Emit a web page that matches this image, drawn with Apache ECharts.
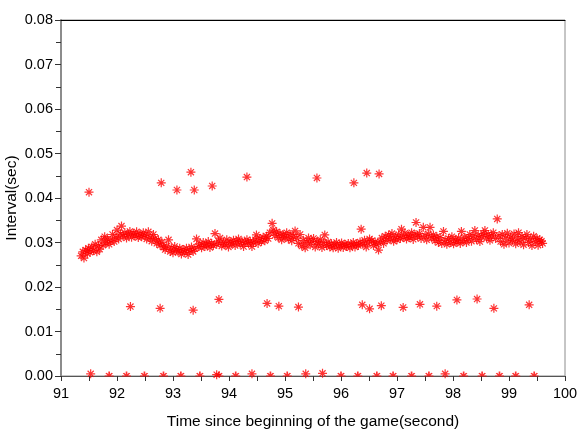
<!DOCTYPE html>
<html><head><meta charset="utf-8">
<script src="https://cdn.jsdelivr.net/npm/echarts@6/dist/echarts.min.js"></script>
<style>html,body{margin:0;padding:0;background:#fff}#c{width:578px;height:432px}</style>
</head><body><div id="c"></div>
<script>
var xTicks = [91,92,93,94,95,96,97,98,99,100];
var yTicks = [0,0.01,0.02,0.03,0.04,0.05,0.06,0.07,0.08];
var xName = 'Time since beginning of the game(second)';
var yName = 'Interval(sec)';

var bandPoints = [
[91.36,0.0270],[91.39,0.0279],[91.41,0.0265],[91.44,0.0283],[91.47,0.0275],[91.49,0.0287],
[91.52,0.0278],[91.55,0.0290],[91.58,0.0282],[91.61,0.0296],[91.64,0.0279],[91.67,0.0293],[91.69,0.0285],
[91.72,0.0306],[91.75,0.0294],[91.78,0.0313],[91.80,0.0299],[91.83,0.0308],[91.86,0.0296],[91.89,0.0304],
[91.92,0.0318],[91.95,0.0302],[91.98,0.0312],[92.00,0.0328],[92.03,0.0308],[92.06,0.0319],[92.08,0.0337],
[92.11,0.0314],[92.14,0.0322],[92.17,0.0310],[92.20,0.0318],[92.23,0.0325],[92.26,0.0312],[92.29,0.0320],[92.32,0.0315],[92.35,0.0324],[92.38,0.0311],[92.41,0.0319],[92.44,0.0313],[92.47,0.0322],
[92.50,0.0316],[92.53,0.0308],[92.56,0.0324],[92.59,0.0312],[92.62,0.0303],[92.65,0.0318],[92.68,0.0309],
[92.71,0.0298],[92.74,0.0306],[92.77,0.0294],[92.80,0.0301],[92.83,0.0290],
[92.86,0.0284],[92.89,0.0292],[92.92,0.0306],[92.95,0.0280],[92.97,0.0288],[93.00,0.0277],[93.03,0.0291],[93.06,0.0283],
[93.09,0.0279],[93.12,0.0287],[93.15,0.0274],[93.18,0.0284],[93.21,0.0278],[93.24,0.0287],[93.27,0.0273],[93.30,0.0282],[93.33,0.0290],[93.36,0.0280],
[93.39,0.0286],[93.42,0.0308],[93.45,0.0291],[93.48,0.0297],[93.51,0.0288],[93.54,0.0300],[93.57,0.0291],[93.60,0.0295],[93.63,0.0302],[93.66,0.0289],[93.69,0.0298],[93.72,0.0293],[93.75,0.0320],[93.78,0.0296],
[93.81,0.0303],[93.84,0.0310],[93.87,0.0292],[93.90,0.0300],[93.93,0.0295],[93.96,0.0306],[93.99,0.0290],[94.02,0.0301],[94.05,0.0297],[94.08,0.0305],[94.11,0.0293],[94.14,0.0302],[94.17,0.0308],[94.20,0.0296],[94.23,0.0303],[94.26,0.0291],[94.29,0.0300],[94.32,0.0306],[94.35,0.0297],[94.38,0.0303],
[94.41,0.0291],[94.44,0.0300],[94.47,0.0306],[94.49,0.0317],[94.52,0.0298],[94.55,0.0309],[94.58,0.0302],[94.61,0.0312],[94.64,0.0304],[94.67,0.0314],[94.70,0.0309],
[94.73,0.0322],[94.77,0.0343],[94.79,0.0328],[94.82,0.0316],[94.85,0.0324],[94.88,0.0311],[94.91,0.0320],[94.94,0.0306],[94.97,0.0317],[95.00,0.0312],[95.03,0.0322],[95.06,0.0308],[95.09,0.0318],[95.12,0.0304],[95.15,0.0314],[95.18,0.0326],
[95.21,0.0310],[95.24,0.0298],[95.27,0.0318],[95.30,0.0292],[95.33,0.0305],[95.36,0.0288],[95.39,0.0300],[95.42,0.0310],[95.45,0.0295],[95.48,0.0303],[95.51,0.0309],[95.54,0.0290],
[95.57,0.0302],[95.60,0.0296],[95.63,0.0306],[95.66,0.0289],[95.69,0.0300],[95.71,0.0317],[95.74,0.0293],[95.77,0.0301],
[95.80,0.0290],[95.83,0.0297],[95.86,0.0288],[95.89,0.0295],[95.92,0.0300],[95.95,0.0287],[95.98,0.0294],[96.01,0.0299],[96.04,0.0289],[96.07,0.0296],[96.10,0.0291],[96.13,0.0298],[96.16,0.0288],[96.19,0.0295],[96.22,0.0300],[96.25,0.0290],[96.28,0.0297],[96.31,0.0293],
[96.34,0.0301],[96.36,0.0330],[96.39,0.0296],[96.42,0.0305],[96.45,0.0290],[96.48,0.0299],[96.51,0.0308],[96.55,0.0304],[96.58,0.0293],[96.61,0.0301],[96.64,0.0296],[96.67,0.0283],
[96.70,0.0302],[96.73,0.0310],[96.76,0.0298],[96.79,0.0314],[96.82,0.0305],[96.85,0.0317],[96.88,0.0308],[96.91,0.0320],[96.94,0.0303],[96.97,0.0313],[97.00,0.0306],[97.03,0.0318],[97.06,0.0309],
[97.08,0.0330],[97.11,0.0312],[97.14,0.0321],[97.17,0.0308],[97.20,0.0316],[97.23,0.0311],[97.26,0.0322],[97.29,0.0307],[97.32,0.0318],[97.34,0.0345],[97.37,0.0313],[97.40,0.0320],[97.43,0.0309],[97.47,0.0334],[97.50,0.0315],[97.53,0.0306],[97.56,0.0319],[97.59,0.0334],[97.62,0.0310],[97.65,0.0317],[97.68,0.0304],[97.71,0.0313],[97.74,0.0300],
[97.77,0.0311],[97.80,0.0298],[97.83,0.0325],[97.86,0.0305],[97.89,0.0296],[97.92,0.0309],[97.95,0.0300],[97.98,0.0313],[98.01,0.0297],[98.04,0.0306],[98.07,0.0301],[98.10,0.0310],[98.13,0.0298],[98.15,0.0325],[98.18,0.0304],[98.21,0.0312],[98.24,0.0300],
[98.27,0.0309],[98.30,0.0318],[98.33,0.0303],[98.36,0.0314],[98.39,0.0327],[98.42,0.0307],[98.45,0.0316],[98.48,0.0302],[98.51,0.0313],[98.54,0.0320],[98.57,0.0327],[98.60,0.0310],[98.63,0.0318],[98.66,0.0305],[98.69,0.0315],[98.72,0.0322],
[98.76,0.0309],[98.79,0.0353],[98.82,0.0315],[98.85,0.0302],[98.88,0.0318],[98.91,0.0296],[98.94,0.0310],[98.97,0.0321],[99.00,0.0299],[99.03,0.0312],[99.06,0.0305],[99.09,0.0319],[99.12,0.0297],[99.15,0.0308],[99.17,0.0322],[99.20,0.0301],[99.23,0.0313],[99.26,0.0295],[99.29,0.0310],[99.32,0.0318],[99.35,0.0300],[99.38,0.0308],[99.41,0.0293],[99.44,0.0314],[99.47,0.0302],[99.50,0.0309],[99.52,0.0294],[99.55,0.0306],[99.58,0.0303],[99.60,0.0298]
];

var highPoints = [
[91.50,0.0413],[92.79,0.0434],[93.07,0.0418],[93.32,0.0458],[93.38,0.0418],[93.70,0.0427],
[94.32,0.0447],[95.57,0.0445],[96.23,0.0434],[96.46,0.0456],[96.68,0.0454]
];

var midPoints = [
[92.24,0.0156],[92.77,0.0152],[93.36,0.0148],[93.82,0.0172],[94.68,0.0163],[94.89,0.0157],[95.24,0.0155],
[96.38,0.0160],[96.51,0.0151],[96.72,0.0158],[97.11,0.0154],[97.41,0.0161],[97.71,0.0157],[98.07,0.0171],
[98.43,0.0173],[98.73,0.0152],[99.36,0.0160]
];

var nearZeroPoints = [
[91.53,0.0005],[93.78,0.0003],[94.41,0.0005],[95.37,0.0005],[95.67,0.0006],[97.86,0.0005]
];

var zeroPoints = [
[91.86,0],[92.17,0],[92.49,0],[92.83,0],[93.14,0],[93.48,0],[93.82,0],[94.12,0],[94.74,0],[95.04,0],
[96.00,0],[96.30,0],[96.64,0],[96.93,0],[97.26,0],[97.57,0],[98.19,0],[98.52,0],[98.83,0],[99.12,0],[99.45,0]
];

var star = 'path://M5,0L5,10M0,5L10,5M1.6,1.6L8.4,8.4M8.4,1.6L1.6,8.4';
var halfStar = 'path://M5,0L5,5M0,5L10,5M1.6,1.6L5,5M8.4,1.6L5,5';
var red = '#ff0000';
var font = 'Liberation Sans, Arial, sans-serif';

function sc(data){
  return {type:'scatter', data:data, symbol:star, symbolSize:9, clip:false,
    itemStyle:{color:red, borderColor:red, borderWidth:1.2}, emphasis:{disabled:true}, animation:false};
}

var chart = echarts.init(document.getElementById('c'), null, {renderer:'canvas'});
chart.setOption({
  backgroundColor:'#fff',
  animation:false,
  grid:{left:61, right:13, top:20, bottom:56, outerBoundsMode:'none', containLabel:false,
    show:true, borderColor:'#8c8c8c', borderWidth:1, backgroundColor:'transparent'},
  xAxis:[{
    type:'value', min:xTicks[0], max:xTicks[xTicks.length-1], interval:1,
    name:xName, nameLocation:'middle', nameGap:38, nameMoveOverlap:false,
    nameTextStyle:{color:'#000', fontFamily:font, fontSize:15.5},
    axisLine:{show:true, onZero:false, lineStyle:{color:'#555', width:1}},
    axisTick:{show:true, inside:false, length:5, lineStyle:{color:'#333'}},
    minorTick:{show:true, splitNumber:2, length:5, lineStyle:{color:'#333'}},
    splitLine:{show:false},
    axisLabel:{color:'#000', fontFamily:font, fontSize:14.5, margin:10}
  },{
    type:'value', position:'top', min:xTicks[0], max:xTicks[xTicks.length-1],
    axisLine:{show:true, onZero:false, lineStyle:{color:'#000', width:1}},
    axisTick:{show:false}, axisLabel:{show:false}, splitLine:{show:false}
  }],
  yAxis:{
    type:'value', min:yTicks[0], max:yTicks[yTicks.length-1], interval:0.01,
    name:yName, nameLocation:'middle', nameGap:41, nameRotate:90, nameMoveOverlap:false,
    nameTextStyle:{color:'#000', fontFamily:font, fontSize:15.5},
    axisLine:{show:true, onZero:false, lineStyle:{color:'#8c8c8c', width:2}},
    axisTick:{show:true, inside:false, length:6, lineStyle:{color:'#333'}},
    minorTick:{show:true, splitNumber:2, length:5, lineStyle:{color:'#333'}},
    splitLine:{show:false},
    axisLabel:{color:'#000', fontFamily:font, fontSize:14.5, margin:8,
      formatter:function(v){return v.toFixed(2);}}
  },
  series:[
    sc(bandPoints), sc(highPoints), sc(midPoints), sc(nearZeroPoints),
    {type:'scatter', data:zeroPoints, symbol:halfStar, symbolSize:[9,4.5], symbolOffset:[0,-2.25], clip:false,
      itemStyle:{color:red, borderColor:red, borderWidth:1.2}, emphasis:{disabled:true}, animation:false}
  ]
});
</script></body></html>
